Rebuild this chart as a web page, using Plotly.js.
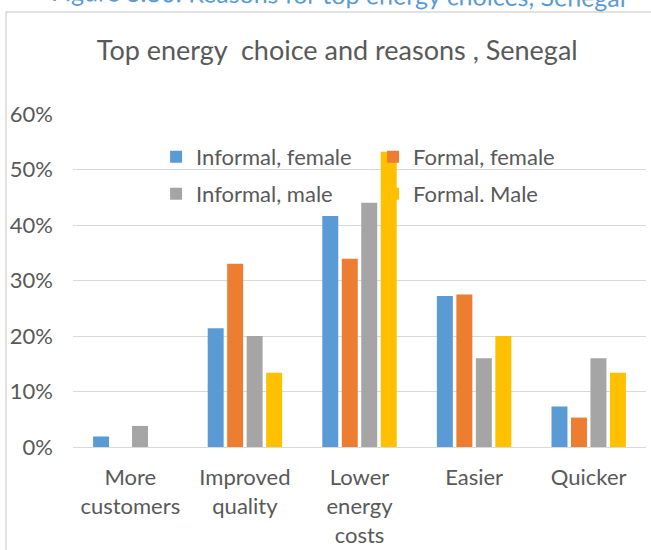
<!DOCTYPE html>
<html>
<head>
<meta charset="utf-8">
<script src="https://cdn.plot.ly/plotly-3.0.1.min.js"></script>
<style>
  html, body { margin: 0; padding: 0; background: #ffffff; }
  #chart { width: 651px; height: 550px; }
</style>
</head>
<body>
<div id="chart"></div>
<script>
// ---- data ----
var categories = ['More<br>customers', 'Improved<br>quality', 'Lower<br>energy<br>costs', 'Easier', 'Quicker'];
var informalFemale = [0.019, 0.214, 0.416, 0.272, 0.073];
var formalFemale   = [0,     0.330, 0.339, 0.275, 0.053];
var informalMale   = [0.038, 0.200, 0.440, 0.160, 0.160];
var formalMale     = [0,     0.134, 0.532, 0.200, 0.134];
var seriesNames = ['Informal, female', 'Formal, female', 'Informal, male', 'Formal. Male'];
var yTickVals = [0, 0.1, 0.2, 0.3, 0.4, 0.5, 0.6];
var yTickText = ['0%', '10%', '20%', '30%', '40%', '50%', '60%'];
var chartTitle = 'Top energy  choice and reasons , Senegal';
var figureCaption = 'Figure 3.30: Reasons for top energy choices, Senegal';

// ---- styles ----
var colors = ['#5B9BD5', '#ED7D31', '#A5A5A5', '#FFC000'];
var textColor = '#595959';
var fontFamily = 'Lato, "Open Sans", sans-serif';

function bar(vals, i, legendId) {
  return {
    type: 'bar',
    x: categories,
    y: vals,
    name: seriesNames[i],
    legend: legendId,
    marker: { color: colors[i], line: { width: 0 } },
    hoverinfo: 'skip'
  };
}

var data = [
  bar(informalFemale, 0, 'legend'),
  bar(formalFemale, 1, 'legend'),
  bar(informalMale, 2, 'legend2'),
  bar(formalMale, 3, 'legend2')
];

var legendCommon = {
  orientation: 'h',
  xanchor: 'left',
  yanchor: 'middle',
  bgcolor: 'rgba(0,0,0,0)',
  borderwidth: 0,
  itemwidth: 30,
  entrywidth: 172,
  entrywidthmode: 'pixels',
  traceorder: 'normal',
  font: { family: fontFamily, size: 22, color: textColor }
};

var layout = {
  width: 651,
  height: 550,
  margin: { l: 73, r: 5, t: 114, b: 103, pad: 0 },
  paper_bgcolor: '#ffffff',
  plot_bgcolor: '#ffffff',
  font: { family: fontFamily, color: textColor },
  barmode: 'group',
  bargap: 0.32,
  bargroupgap: 0.18,
  title: {
    text: chartTitle,
    font: { family: fontFamily, size: 27, color: textColor },
    xref: 'container', x: 0.518, xanchor: 'center',
    yref: 'container', y: 0.909, yanchor: 'middle'
  },
  xaxis: {
    type: 'category',
    showline: true, linecolor: '#d9d9d9', linewidth: 1,
    showgrid: false, zeroline: false, ticks: '',
    tickfont: { family: fontFamily, size: 22, color: textColor },
    ticklabelstandoff: 11,
    fixedrange: true
  },
  yaxis: {
    range: [0, 0.6],
    tickvals: yTickVals,
    ticktext: yTickText,
    showgrid: true, gridcolor: '#d9d9d9', gridwidth: 1,
    zeroline: false, showline: false, ticks: '',
    tickfont: { family: fontFamily, size: 22, color: textColor },
    ticklabelstandoff: 19,
    fixedrange: true
  },
  legend: Object.assign({}, legendCommon, { x: 0.1450, y: 0.871 }),
  legend2: Object.assign({}, legendCommon, { x: 0.1450, y: 0.760 }),
  shapes: [{
    type: 'rect',
    xref: 'paper', yref: 'paper',
    xsizemode: 'pixel', ysizemode: 'pixel',
    xanchor: 0, yanchor: 0,
    x0: -67, x1: 700, y0: -200, y1: 435,
    line: { color: '#d9d9d9', width: 1.5 },
    fillcolor: 'rgba(0,0,0,0)',
    layer: 'below'
  }],
  annotations: [{
    text: figureCaption,
    xref: 'paper', yref: 'paper',
    x: 0.4625, y: 1.360,
    xanchor: 'center', yanchor: 'middle',
    showarrow: false,
    textangle: 0.6,
    font: { family: fontFamily, size: 25, color: '#5B9BD5' }
  }]
};

Plotly.newPlot('chart', data, layout, { displayModeBar: false, staticPlot: true });
</script>
</body>
</html>
